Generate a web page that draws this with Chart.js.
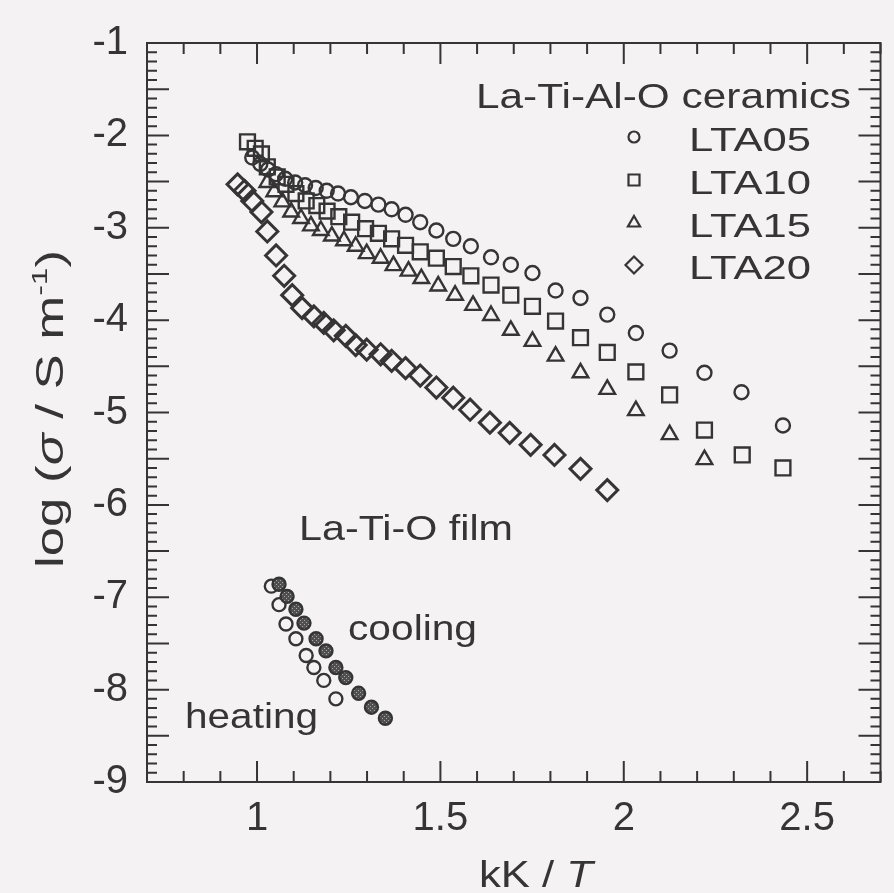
<!DOCTYPE html>
<html>
<head>
<meta charset="utf-8">
<script src="https://cdn.jsdelivr.net/npm/chart.js@4.4.1/dist/chart.umd.min.js"></script>
<style>
  html, body { margin: 0; padding: 0; background: #f4f2f3; }
  #chart { display: block; }
</style>
</head>
<body>
<canvas id="chart" width="894" height="893"></canvas>
<script>
// La-Ti-Al-O ceramics, log(sigma / S m^-1) vs kK / T
const lta05X = [0.987, 1.009, 1.030, 1.052, 1.077, 1.104, 1.131, 1.160, 1.190, 1.221, 1.256, 1.294, 1.331, 1.367, 1.405, 1.445, 1.489, 1.535, 1.583, 1.638, 1.692, 1.751, 1.814, 1.882, 1.955, 2.033, 2.125, 2.220, 2.321, 2.434];
const lta05Y = [-2.24, -2.31, -2.37, -2.42, -2.47, -2.51, -2.54, -2.57, -2.60, -2.63, -2.67, -2.71, -2.75, -2.80, -2.86, -2.94, -3.03, -3.12, -3.20, -3.32, -3.40, -3.49, -3.68, -3.76, -3.94, -4.14, -4.33, -4.57, -4.78, -5.14];

const lta10X = [0.974, 0.995, 1.012, 1.028, 1.055, 1.079, 1.106, 1.134, 1.163, 1.191, 1.223, 1.258, 1.296, 1.331, 1.367, 1.405, 1.445, 1.489, 1.535, 1.583, 1.638, 1.692, 1.751, 1.814, 1.882, 1.955, 2.033, 2.125, 2.220, 2.323, 2.434];
const lta10Y = [-2.07, -2.14, -2.20, -2.34, -2.45, -2.53, -2.63, -2.71, -2.76, -2.82, -2.88, -2.94, -3.01, -3.06, -3.12, -3.19, -3.26, -3.33, -3.42, -3.52, -3.62, -3.73, -3.85, -4.01, -4.19, -4.35, -4.56, -4.81, -5.19, -5.46, -5.60];

const lta15X = [1.028, 1.047, 1.069, 1.093, 1.120, 1.147, 1.174, 1.204, 1.237, 1.269, 1.299, 1.337, 1.372, 1.413, 1.448, 1.494, 1.540, 1.589, 1.638, 1.692, 1.751, 1.814, 1.882, 1.955, 2.033, 2.125, 2.220];
const lta15Y = [-2.51, -2.61, -2.72, -2.83, -2.90, -2.98, -3.03, -3.09, -3.14, -3.20, -3.28, -3.33, -3.41, -3.47, -3.55, -3.63, -3.73, -3.84, -3.95, -4.11, -4.23, -4.39, -4.57, -4.75, -4.98, -5.24, -5.51];

const lta20X = [0.947, 0.966, 0.987, 1.012, 1.028, 1.052, 1.074, 1.096, 1.123, 1.155, 1.182, 1.209, 1.242, 1.269, 1.299, 1.337, 1.367, 1.405, 1.445, 1.489, 1.535, 1.581, 1.635, 1.689, 1.746, 1.811, 1.882, 1.955];
const lta20Y = [-2.53, -2.60, -2.71, -2.83, -3.04, -3.30, -3.52, -3.73, -3.87, -3.96, -4.03, -4.11, -4.17, -4.27, -4.32, -4.37, -4.44, -4.52, -4.60, -4.73, -4.84, -4.97, -5.11, -5.22, -5.35, -5.46, -5.61, -5.84];

// La-Ti-O film
const heatingX = [1.039, 1.060, 1.079, 1.106, 1.134, 1.155, 1.182, 1.215];
const heatingY = [-6.88, -7.08, -7.29, -7.45, -7.63, -7.76, -7.90, -8.10];
const coolingX = [1.060, 1.082, 1.106, 1.128, 1.161, 1.188, 1.215, 1.242, 1.277, 1.312, 1.350];
const coolingY = [-6.86, -6.99, -7.13, -7.28, -7.45, -7.58, -7.76, -7.87, -8.04, -8.19, -8.31];

const seriesNames = ["LTA05", "LTA10", "LTA15", "LTA20"];
const xTickValues = [1, 1.5, 2, 2.5];
const yTickValues = [-1, -2, -3, -4, -5, -6, -7, -8, -9];

const INK = "#353535";
const BG = "#f4f2f3";
const FONT = "'Liberation Sans', Arial, sans-serif";

function pts(xs, ys) {
  return xs.map((x, i) => ({ x: x, y: ys[i] }));
}

// dotted dark fill for the cooling markers
const canvas = document.getElementById("chart");
const ctx = canvas.getContext("2d");
const pc = document.createElement("canvas");
pc.width = 4; pc.height = 4;
const pctx = pc.getContext("2d");
pctx.fillStyle = "#505050";
pctx.fillRect(0, 0, 4, 4);
pctx.fillStyle = "#a8a8a8";
pctx.fillRect(0, 0, 1, 1);
pctx.fillRect(2, 2, 1, 1);
const dotPattern = ctx.createPattern(pc, "repeat");

// draws a line of text made of runs (italic / superscript), stretched to a given width
function richText(c, runs, x, y, size, width, rot) {
  c.save();
  c.translate(x, y);
  if (rot) c.rotate(rot);
  const fontOf = r => (r.italic ? "italic " : "") + (r.sup ? size * 0.6 : size) + "px " + FONT;
  let natural = 0;
  runs.forEach(r => { c.font = fontOf(r); natural += c.measureText(r.t).width; });
  c.scale(width ? width / natural : 1, 1);
  c.fillStyle = INK;
  c.textBaseline = "alphabetic";
  c.textAlign = "left";
  let cx = 0;
  runs.forEach(r => {
    c.font = fontOf(r);
    c.fillText(r.t, cx, r.sup ? -size * 0.42 : 0);
    cx += c.measureText(r.t).width;
  });
  c.restore();
}

function marker(c, style, x, y, r) {
  c.beginPath();
  if (style === "circle") {
    c.arc(x, y, r, 0, Math.PI * 2);
  } else if (style === "rect") {
    c.rect(x - r, y - r, 2 * r, 2 * r);
  } else if (style === "triangle") {
    for (let k = 0; k < 3; k++) {
      const a = k * 2 * Math.PI / 3;
      const px = x + Math.sin(a) * r, py = y - Math.cos(a) * r;
      if (k === 0) c.moveTo(px, py); else c.lineTo(px, py);
    }
  } else {
    c.moveTo(x, y - r); c.lineTo(x + r, y); c.lineTo(x, y + r); c.lineTo(x - r, y);
  }
  c.closePath();
  c.stroke();
}

const framePlugin = {
  id: "frame",
  beforeDraw(chart) {
    const c = chart.ctx;
    c.save();
    c.fillStyle = BG;
    c.fillRect(0, 0, chart.width, chart.height);
    c.restore();
  },
  afterDatasetsDraw(chart) {
    const c = chart.ctx;
    const a = chart.chartArea;
    const xs = chart.scales.x, ys = chart.scales.y;
    c.save();
    c.strokeStyle = INK;
    c.lineWidth = 2;
    c.strokeRect(a.left, a.top, a.right - a.left, a.bottom - a.top);
    c.beginPath();
    // inward ticks every 0.1 on all four sides, longer every 0.5
    for (let i = 7; i <= 27; i++) {
      const px = xs.getPixelForValue(i / 10);
      const len = i % 5 === 0 ? 21 : 11;
      c.moveTo(px, a.bottom); c.lineTo(px, a.bottom - len);
      c.moveTo(px, a.top); c.lineTo(px, a.top + len);
    }
    for (let i = 10; i <= 90; i++) {
      const py = ys.getPixelForValue(-i / 10);
      const len = i % 5 === 0 ? 22 : 10;
      c.moveTo(a.left, py); c.lineTo(a.left + len, py);
      c.moveTo(a.right, py); c.lineTo(a.right - len, py);
    }
    c.stroke();
    c.restore();
  },
  afterDraw(chart) {
    const c = chart.ctx;
    // axis titles
    richText(c, [{ t: "kK / " }, { t: "T", italic: true }], 479, 887, 37, 114);
    richText(c, [{ t: "log (" }, { t: "σ", italic: true }, { t: " / S m" }, { t: "-1", sup: true }, { t: ")" }],
      63, 568, 38, 318, -Math.PI / 2);
    // annotations
    richText(c, [{ t: "La-Ti-Al-O ceramics" }], 476, 108, 35, 375);
    richText(c, [{ t: "La-Ti-O film" }], 299, 540, 35, 214);
    richText(c, [{ t: "cooling" }], 348, 640, 35, 129);
    richText(c, [{ t: "heating" }], 185, 728, 35, 133);
    // legend
    const styles = ["circle", "rect", "triangle", "diamond"];
    const sizes = [5.5, 5.5, 7, 8.5];
    const rowY = [137, 180, 223, 265];
    c.save();
    c.strokeStyle = INK;
    c.lineWidth = 2.2;
    styles.forEach((s, i) => marker(c, s, 634, rowY[i], sizes[i]));
    c.restore();
    seriesNames.forEach((n, i) => richText(c, [{ t: n }], 689, rowY[i] + 14, 33, 122));
  }
};

const common = { showLine: false, borderColor: INK, backgroundColor: "rgba(0,0,0,0)", borderWidth: 2.4 };

new Chart(ctx, {
  type: "scatter",
  data: {
    datasets: [
      Object.assign({ label: "cooling", data: pts(coolingX, coolingY), pointStyle: "circle", pointRadius: 6.5 }, common, { backgroundColor: dotPattern }),
      Object.assign({ label: "heating", data: pts(heatingX, heatingY), pointStyle: "circle", pointRadius: 6.5 }, common),
      Object.assign({ label: seriesNames[0], data: pts(lta05X, lta05Y), pointStyle: "circle", pointRadius: 7 }, common),
      Object.assign({ label: seriesNames[1], data: pts(lta10X, lta10Y), pointStyle: "rect", pointRadius: 10.5 }, common),
      Object.assign({ label: seriesNames[2], data: pts(lta15X, lta15Y), pointStyle: "triangle", pointRadius: 9 }, common),
      Object.assign({ label: seriesNames[3], data: pts(lta20X, lta20Y), pointStyle: "rectRot", pointRadius: 10.5 }, common, { borderWidth: 3 })
    ]
  },
  options: {
    responsive: false,
    animation: false,
    layout: { padding: { top: 38, right: 9, bottom: 0, left: 0 } },
    plugins: {
      legend: { display: false },
      tooltip: { enabled: false }
    },
    scales: {
      x: {
        type: "linear",
        min: 0.7,
        max: 2.7,
        grid: { display: false, drawTicks: false },
        border: { display: false },
        afterBuildTicks: s => { s.ticks = xTickValues.map(v => ({ value: v })); },
        afterFit: s => { s.height = 111; },
        ticks: {
          color: INK,
          font: { family: FONT, size: 40 },
          padding: 13,
          maxRotation: 0,
          autoSkip: false,
          callback: v => String(v)
        }
      },
      y: {
        type: "linear",
        min: -9,
        max: -1,
        grid: { display: false, drawTicks: false },
        border: { display: false },
        afterBuildTicks: s => { s.ticks = yTickValues.map(v => ({ value: v })); },
        afterFit: s => { s.width = 147; },
        ticks: {
          color: INK,
          font: { family: FONT, size: 40 },
          padding: 19,
          autoSkip: false,
          callback: v => String(v)
        }
      }
    }
  },
  plugins: [framePlugin]
});
</script>
</body>
</html>
